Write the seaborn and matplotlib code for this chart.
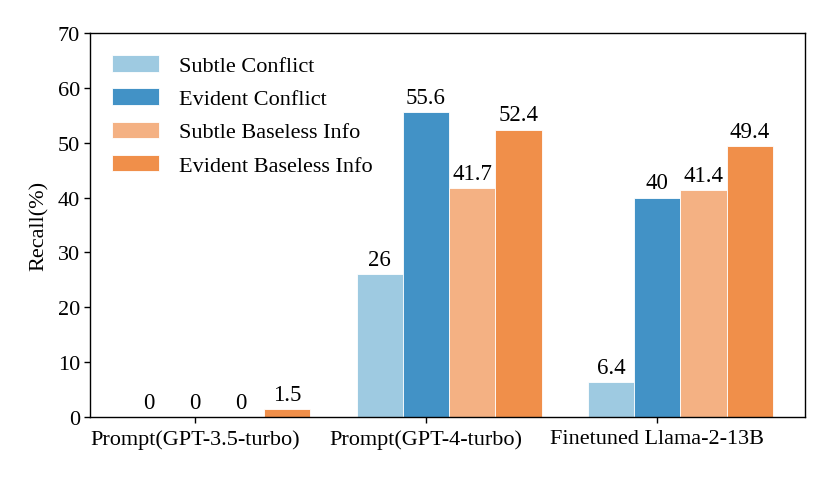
import matplotlib
matplotlib.use("Agg")
import matplotlib.pyplot as plt
import numpy as np
import pandas as pd
import seaborn as sns

# ── data ─────────────────────────────────────────────────────────────────────
methods = ["Prompt(GPT-3.5-turbo)", "Prompt(GPT-4-turbo)", "Finetuned Llama-2-13B"]
series = ["Subtle Conflict", "Evident Conflict", "Subtle Baseless Info", "Evident Baseless Info"]
subtle_conflict = [0, 26, 6.4]
evident_conflict = [0, 55.6, 40]
subtle_baseless = [0, 41.7, 41.4]
evident_baseless = [1.5, 52.4, 49.4]
colors = ["#9ecae1", "#4292c6", "#f4b183", "#f08f4a"]

rows = []
for name, vals in zip(series, [subtle_conflict, evident_conflict, subtle_baseless, evident_baseless]):
    for m, v in zip(methods, vals):
        rows.append({"method": m, "series": name, "recall": v})
df = pd.DataFrame(rows)

# ── style ────────────────────────────────────────────────────────────────────
sns.set_theme(style="ticks")
plt.rcParams["font.family"] = ["Liberation Serif", "DejaVu Serif"]
plt.rcParams["text.color"] = "black"
plt.rcParams["axes.labelcolor"] = "black"

fig = plt.figure(figsize=(8.3, 4.81), dpi=100)
ax = fig.add_axes([0.108, 0.131, 0.862, 0.798])

sns.barplot(
    data=df, x="method", y="recall", hue="series",
    order=methods, hue_order=series, palette=colors,
    saturation=1, edgecolor="white", linewidth=0.6,
    errorbar=None, width=0.8, ax=ax,
)

for cont in ax.containers:
    ax.bar_label(cont, fmt="%g", padding=3, fontsize=16.5, color="black")

ax.set_ylim(0, 70)
ax.set_yticks(np.arange(0, 71, 10))
ax.set_xticks(np.arange(len(methods)) - 0.1, methods)
ax.set_xlim(-0.555, 2.54)
ax.set_xlabel("")
ax.set_ylabel("Recall(%)", fontsize=16, labelpad=6)
ax.tick_params(axis="both", labelsize=16, length=4, width=1, colors="black", pad=3)
ax.tick_params(axis="x", pad=5)
for sp in ax.spines.values():
    sp.set_visible(True)
    sp.set_color("black")
    sp.set_linewidth(1)

ax.legend(
    loc="upper left", frameon=False, fontsize=16,
    handlelength=2.1, handleheight=0.75, handletextpad=0.9,
    labelspacing=0.55, borderaxespad=0.6,
)

fig.savefig("out.png", dpi=100)
